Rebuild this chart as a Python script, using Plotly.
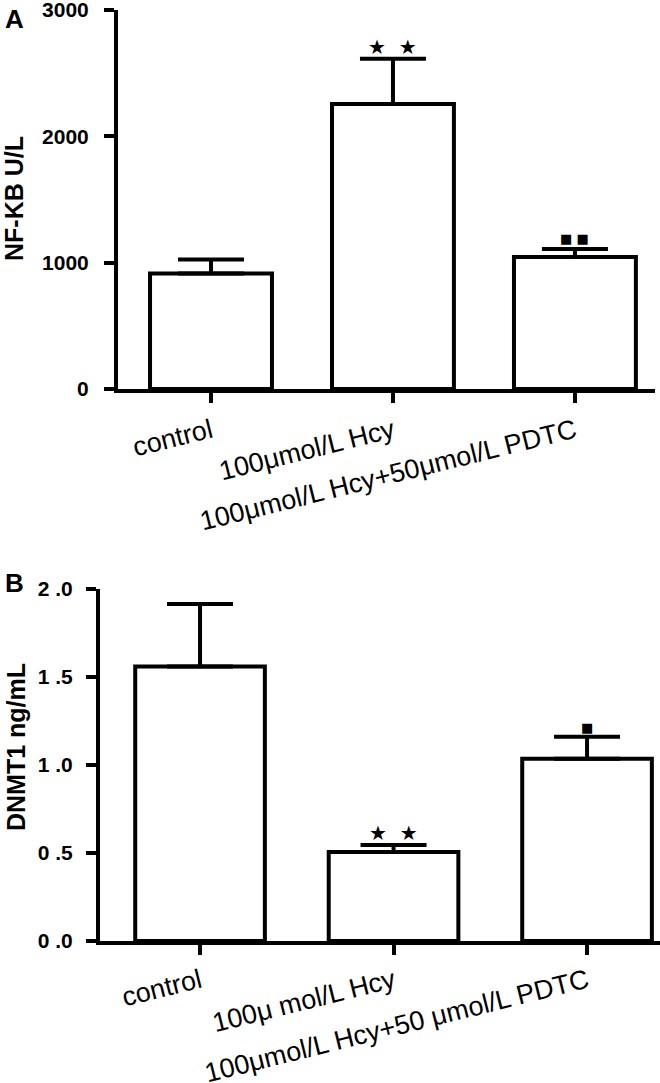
import plotly.graph_objects as go

# ---- data ----
categories_A = ["control", "100μmol/L Hcy", "100μmol/L Hcy+50μmol/L PDTC"]
nfkb_mean = [915, 2255, 1045]
nfkb_sem = [110, 360, 63]
sig_A = ["", "★  ★", "■ ■"]

categories_B = ["control", "100μ mol/L Hcy", "100μmol/L Hcy+50 μmol/L PDTC"]
dnmt1_mean = [1.56, 0.505, 1.035]
dnmt1_sem = [0.355, 0.04, 0.125]
sig_B = ["", "★  ★", "■"]

yticks_A = [0, 1000, 2000, 3000]
yticks_B = [0.0, 0.5, 1.0, 1.5, 2.0]
yticktext_B = ["0 .0", "0 .5", "1 .0", "1 .5", "2 .0"]

W, H = 660, 1083
FONT = "Liberation Sans, Arial, sans-serif"

fig = go.Figure()

def add_bars(xref, yref, mean, sem):
    fig.add_trace(go.Bar(
        x=list(range(len(mean))), y=mean,
        xaxis=xref, yaxis=yref,
        width=0.67,
        marker=dict(color="white", line=dict(color="black", width=4)),
        error_y=dict(type="data", symmetric=False, array=sem,
                     arrayminus=[0] * len(sem), color="black",
                     thickness=4, width=33),
        showlegend=False, hoverinfo="skip",
    ))

add_bars("x", "y", nfkb_mean, nfkb_sem)
add_bars("x2", "y2", dnmt1_mean, dnmt1_sem)

axis_common = dict(showline=True, linecolor="black", linewidth=4,
                   ticks="outside", ticklen=10, tickwidth=3.5, tickcolor="black",
                   showgrid=False, zeroline=False, automargin=False,
                   ticklabeloverflow="allow")

fig.update_layout(
    width=W, height=H,
    margin=dict(l=0, r=0, t=0, b=0),
    paper_bgcolor="white", plot_bgcolor="white",
    xaxis=dict(domain=[118 / W, 655 / W], range=[-0.511, 2.44], anchor="y",
               tickvals=[0, 1, 2], ticktext=categories_A, tickangle=-14,
               tickfont=dict(family=FONT, size=27, color="black"),
               ticklabelstandoff=2, **axis_common),
    yaxis=dict(domain=[1 - 389 / H, 1 - 10 / H], range=[0, 3000], anchor="x",
               tickvals=yticks_A,
               tickfont=dict(family=FONT, size=21, color="black", weight="bold"),
               ticklabelstandoff=11, **axis_common),
    xaxis2=dict(domain=[100 / W, 1.0], range=[-0.517, 2.377], anchor="y2",
                tickvals=[0, 1, 2], ticktext=categories_B, tickangle=-14,
                tickfont=dict(family=FONT, size=27, color="black"),
                ticklabelstandoff=0, **axis_common),
    yaxis2=dict(domain=[1 - 941 / H, 1 - 589 / H], range=[0, 2.0], anchor="x2",
                tickvals=yticks_B, ticktext=yticktext_B,
                tickfont=dict(family=FONT, size=21, color="black", weight="bold"),
                ticklabelstandoff=9, **axis_common),
)

def sig_font(s):
    return dict(family="DejaVu Sans", size=20 if "★" in s else 13, color="black")

annotations = []
for i, s in enumerate(sig_A):
    if s:
        annotations.append(dict(x=i, y=nfkb_mean[i] + nfkb_sem[i], xref="x", yref="y",
                                text=s, showarrow=False, yanchor="bottom",
                                yshift=-2 if "★" in s else 1,
                                xanchor="center", font=sig_font(s)))
for i, s in enumerate(sig_B):
    if s:
        annotations.append(dict(x=i, y=dnmt1_mean[i] + dnmt1_sem[i], xref="x2", yref="y2",
                                text=s, showarrow=False, yanchor="bottom",
                                yshift=-2 if "★" in s else 0,
                                xanchor="center", font=sig_font(s)))

annotations += [
    dict(text="<b>NF-KB U/L</b>", x=14 / W, y=1 - 199 / H, xref="paper", yref="paper",
         xanchor="center", yanchor="middle",
         textangle=-90, showarrow=False, font=dict(family=FONT, size=25, color="black")),
    dict(text="<b>DNMT1 ng/mL</b>", x=16 / W, y=1 - 747 / H, xref="paper", yref="paper",
         xanchor="center", yanchor="middle",
         textangle=-90, showarrow=False, font=dict(family=FONT, size=25, color="black")),
    dict(text="<b>A</b>", x=14 / W, y=1 - 19 / H, xref="paper", yref="paper",
         xanchor="center", yanchor="middle",
         showarrow=False, font=dict(family=FONT, size=26, color="black")),
    dict(text="<b>B</b>", x=14 / W, y=1 - 583 / H, xref="paper", yref="paper",
         xanchor="center", yanchor="middle",
         showarrow=False, font=dict(family=FONT, size=26, color="black")),
]
fig.update_layout(annotations=annotations)

fig.write_html("out.html", config={"displayModeBar": False},
               post_script="document.body.style.margin='0';document.body.style.overflow='hidden';")
